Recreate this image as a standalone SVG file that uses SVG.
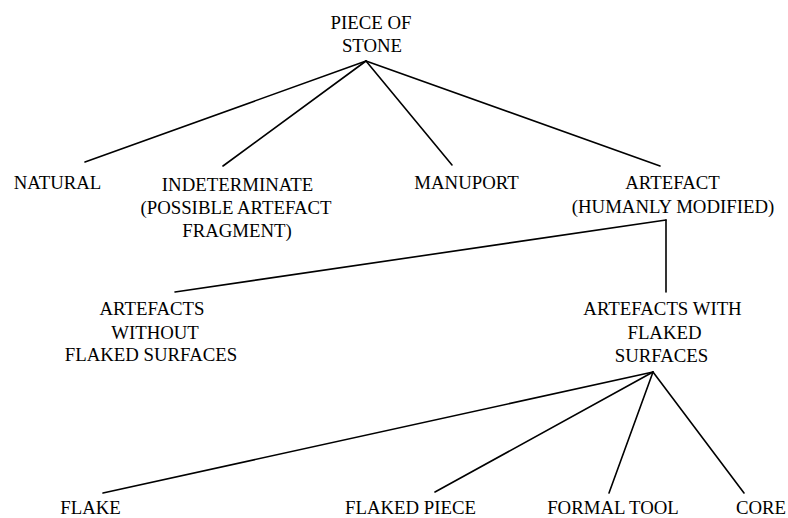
<svg xmlns="http://www.w3.org/2000/svg" width="788" height="518" viewBox="0 0 788 518">
<style>
  text { font-family: "Liberation Serif", "Times New Roman", Times, "DejaVu Serif", serif; font-size: 18.8px; fill: #000; text-anchor: middle; }
  .edge { stroke: #000; stroke-width: 1.6; fill: none; stroke-linecap: round; }
</style>
<rect width="788" height="518" fill="#fff"/>
<g id="connectors">
  <line class="edge" x1="366" y1="61" x2="85" y2="162"/>
  <line class="edge" x1="366" y1="61" x2="223" y2="166"/>
  <line class="edge" x1="366" y1="61" x2="452" y2="165"/>
  <line class="edge" x1="366" y1="61" x2="660" y2="166"/>
  <line class="edge" x1="666" y1="220" x2="175" y2="292"/>
  <line class="edge" x1="666" y1="220" x2="666" y2="292"/>
  <line class="edge" x1="653" y1="372" x2="103" y2="493"/>
  <line class="edge" x1="653" y1="372" x2="435" y2="492"/>
  <line class="edge" x1="653" y1="372" x2="609" y2="493"/>
  <line class="edge" x1="653" y1="372" x2="744" y2="493"/>
</g>
<g id="piece-of-stone">
  <text x="371" y="29">PIECE OF</text>
  <text x="372" y="52">STONE</text>
</g>
<g id="natural">
  <text x="57.5" y="189">NATURAL</text>
</g>
<g id="indeterminate">
  <text x="237.5" y="191">INDETERMINATE</text>
  <text x="236" y="214">(POSSIBLE ARTEFACT</text>
  <text x="237" y="237">FRAGMENT)</text>
</g>
<g id="manuport">
  <text x="466.5" y="189">MANUPORT</text>
</g>
<g id="artefact">
  <text x="672.5" y="189">ARTEFACT</text>
  <text x="673" y="213">(HUMANLY MODIFIED)</text>
</g>
<g id="artefacts-without">
  <text x="152" y="315">ARTEFACTS</text>
  <text x="155" y="339">WITHOUT</text>
  <text x="151" y="361">FLAKED SURFACES</text>
</g>
<g id="artefacts-with">
  <text x="662.5" y="315">ARTEFACTS WITH</text>
  <text x="664.5" y="339">FLAKED</text>
  <text x="661.5" y="362">SURFACES</text>
</g>
<g id="flake">
  <text x="90.5" y="514">FLAKE</text>
</g>
<g id="flaked-piece">
  <text x="410.5" y="514">FLAKED PIECE</text>
</g>
<g id="formal-tool">
  <text x="613" y="514">FORMAL TOOL</text>
</g>
<g id="core">
  <text x="761" y="514">CORE</text>
</g>
</svg>
